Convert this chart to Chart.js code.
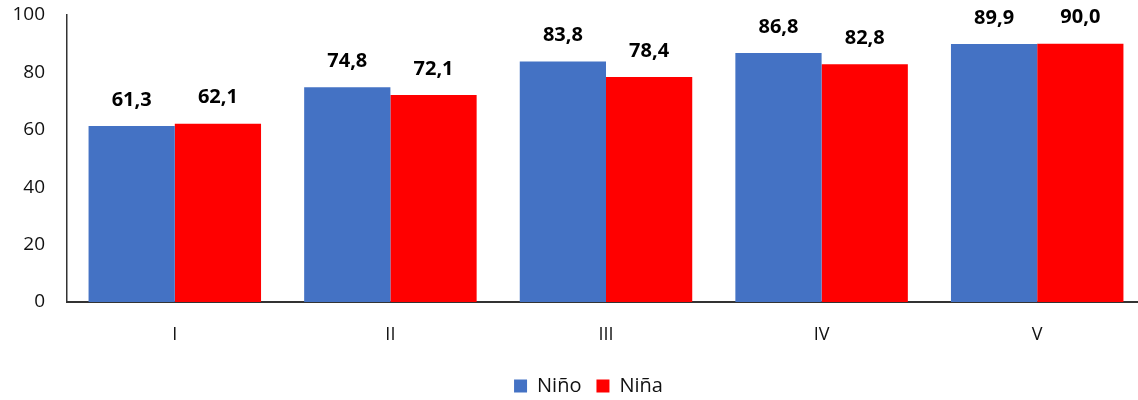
<!DOCTYPE html>
<html>
<head>
<meta charset="utf-8">
<script src="https://cdn.jsdelivr.net/npm/chart.js@4.4.1/dist/chart.umd.min.js"></script>
<style>
  html, body { margin: 0; padding: 0; background: #fff; overflow: hidden; }
  #wrap { width: 1173px; height: 400px; }
</style>
</head>
<body>
<div id="wrap"><canvas id="chart" width="1173" height="400"></canvas></div>
<script>
const categories = ['I', 'II', 'III', 'IV', 'V'];
const ninoValues = [61.3, 74.8, 83.8, 86.8, 89.9];
const ninaValues = [62.1, 72.1, 78.4, 82.8, 90.0];
const yTicks = [0, 20, 40, 60, 80, 100];

const FONT = '"Open Sans", "Liberation Sans", sans-serif';

// Writes each bar's value (decimal comma) above it
const valueLabels = {
  id: 'valueLabels',
  afterDatasetsDraw(chart) {
    const ctx = chart.ctx;
    ctx.save();
    ctx.font = 'bold 20px ' + FONT;
    ctx.fillStyle = '#000';
    ctx.textAlign = 'center';
    ctx.textBaseline = 'middle';
    chart.data.datasets.forEach((ds, i) => {
      chart.getDatasetMeta(i).data.forEach((bar, j) => {
        const txt = ds.data[j].toFixed(1).replace('.', ',');
        ctx.fillText(txt, bar.x, bar.y - 26);
      });
    });
    ctx.restore();
  }
};

// Nudges the legend block to the right of the page centre
const legendShift = {
  id: 'legendShift',
  afterLayout(chart) {
    if (chart.legend) {
      chart.legend.left += 16;
      chart.legend.right += 16;
    }
  }
};

new Chart(document.getElementById('chart'), {
  type: 'bar',
  data: {
    labels: categories,
    datasets: [
      { label: 'Niño', data: ninoValues, backgroundColor: '#4472C4' },
      { label: 'Niña', data: ninaValues, backgroundColor: '#FF0000' }
    ]
  },
  options: {
    responsive: false,
    animation: false,
    layout: { padding: { top: 15, right: 28, left: 0, bottom: -6 } },
    datasets: { bar: { barPercentage: 1.0, categoryPercentage: 0.8 } },
    scales: {
      x: {
        grid: { display: false, drawTicks: false },
        border: { display: true, color: '#333', width: 2 },
        ticks: { color: '#111', font: { family: FONT, size: 18 }, padding: 22 },
        afterFit(scale) { scale.height = 59; }
      },
      y: {
        min: 0, max: 100,
        afterBuildTicks(scale) { scale.ticks = yTicks.map(v => ({ value: v })); },
        grid: { display: false, drawTicks: false },
        border: { display: true, color: '#333', width: 1.5 },
        ticks: { color: '#111', font: { family: FONT, size: 19 }, padding: 22 },
        afterFit(scale) {
          scale.width = 67;
          scale.paddingTop = 12;
          scale.paddingBottom = 0;
        }
      }
    },
    plugins: {
      legend: {
        position: 'bottom',
        labels: {
          boxWidth: 13, boxHeight: 13, padding: 15,
          color: '#111', font: { family: FONT, size: 20 }
        }
      },
      tooltip: { enabled: false }
    }
  },
  plugins: [valueLabels, legendShift]
});
</script>
</body>
</html>
